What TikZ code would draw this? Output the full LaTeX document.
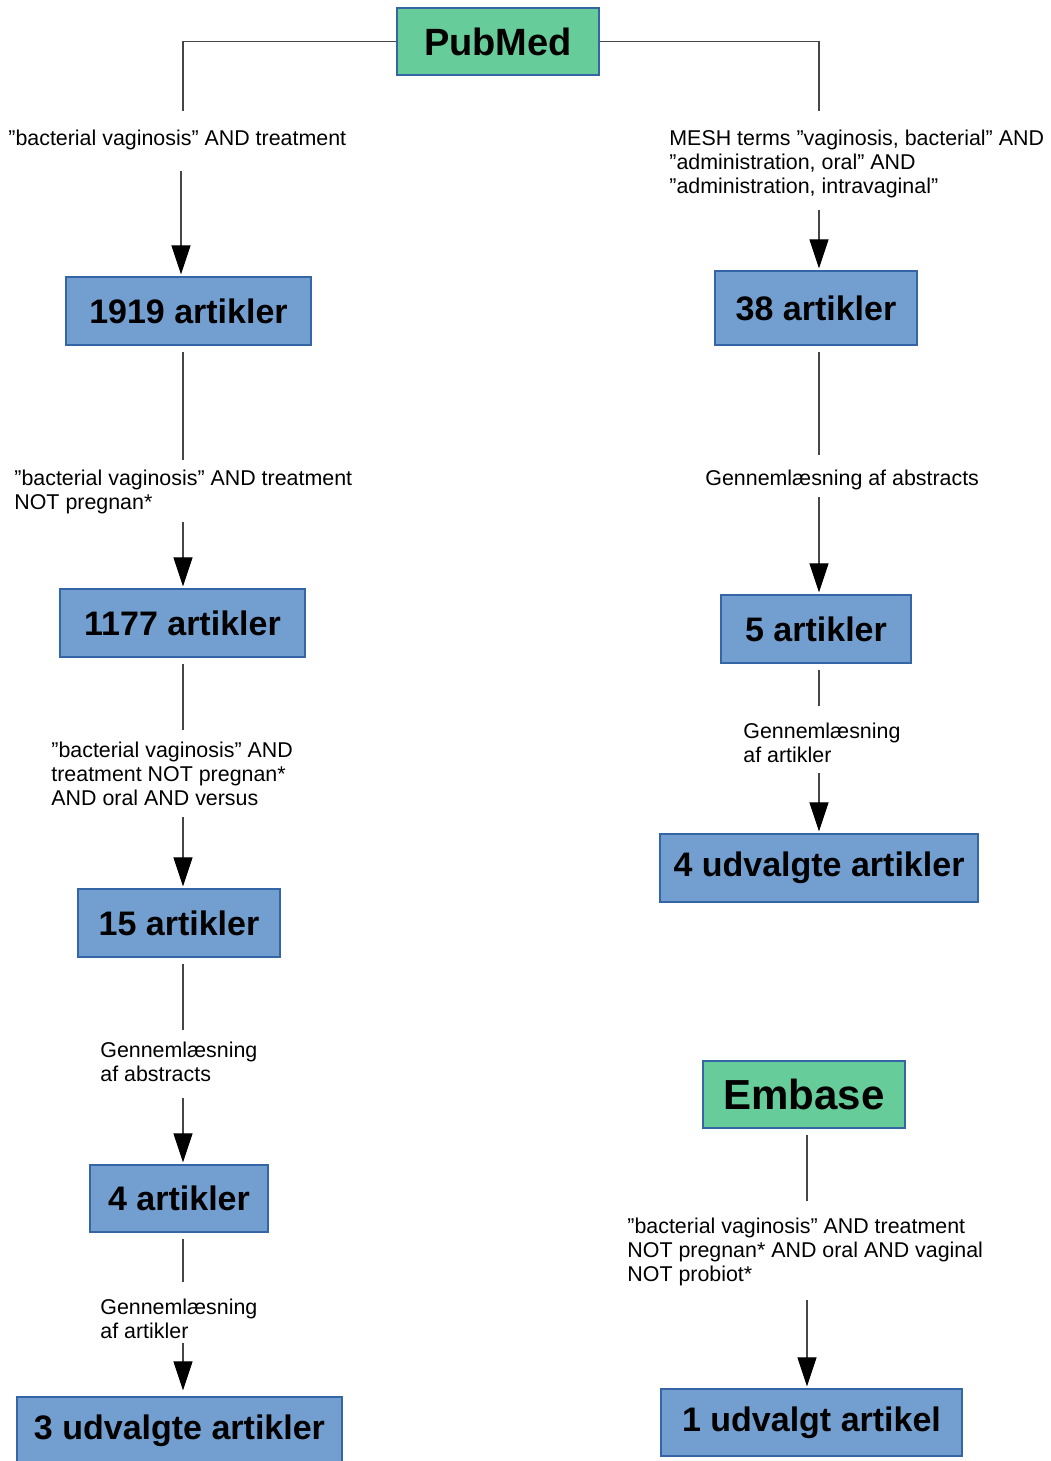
\documentclass[tikz,border=0pt]{standalone}
\usepackage{fontspec}
\setmainfont{Liberation Sans}
\usetikzlibrary{arrows.meta}
\definecolor{boxblue}{RGB}{114,159,207}
\definecolor{boxgreen}{RGB}{102,204,153}
\definecolor{boxedge}{RGB}{52,101,164}
\definecolor{linegray}{RGB}{70,70,70}
\tikzset{
  basebox/.style={draw=boxedge, line width=0.6pt, inner sep=0pt, font=\bfseries\fontsize{17}{20}\selectfont},
  bluebox/.style={basebox, fill=boxblue},
  greenbox/.style={basebox, fill=boxgreen},
  lbl/.style={anchor=north west, inner sep=0pt, align=left, font=\fontsize{10.7}{12}\selectfont},
  conn/.style={draw=linegray, line width=0.55pt},
  arrowconn/.style={conn, -{Triangle[length=14.5pt,width=9.5pt,color=black]}, shorten >=1pt},
}
\begin{document}
\begin{tikzpicture}[x=0.5pt,y=-0.5pt]
\useasboundingbox (0,0) rectangle (1050,1461);
% boxes
\node[greenbox, minimum width=101pt, minimum height=33.5pt, font=\bfseries\fontsize{19}{22}\selectfont] (pub) at (498,41.5) {PubMed};
\node[bluebox, minimum width=122.5pt, minimum height=34pt] (n1919) at (188.5,311) {1919 artikler};
\node[bluebox, minimum width=122.5pt, minimum height=34pt] (n1177) at (182.5,623) {1177 artikler};
\node[bluebox, minimum width=101pt, minimum height=34pt] (n15) at (179,923) {15 artikler};
\node[bluebox, minimum width=89pt, minimum height=33.5pt] (n4) at (179,1198.5) {4 artikler};
\node[bluebox, minimum width=162.5pt, minimum height=34pt] (n3) at (179.5,1431) {3 udvalgte artikler};
\node[bluebox, minimum width=101pt, minimum height=37pt] (n38) at (816,308) {38 artikler};
\node[bluebox, minimum width=95pt, minimum height=34pt] (n5) at (816,629) {5 artikler};
\node[bluebox, minimum width=159pt, minimum height=34pt] (n4u) at (819,868) {4 udvalgte artikler};
\node[greenbox, minimum width=101pt, minimum height=33.5pt, font=\bfseries\fontsize{21}{24}\selectfont] (emb) at (804,1094.5) {Embase};
\node[bluebox, minimum width=150.5pt, minimum height=33.5pt] (n1u) at (811.5,1422.5) {1 udvalgt artikel};
% labels
\node[lbl] (l1) at (8,130) {”bacterial vaginosis” AND treatment};
\node[lbl] (l2) at (669,130) {MESH terms ”vaginosis, bacterial” AND\\ ”administration, oral” AND\\ ”administration, intravaginal”};
\node[lbl] (l3) at (14,470) {”bacterial vaginosis” AND treatment\\ NOT pregnan*};
\node[lbl] (l4) at (51,742) {”bacterial vaginosis” AND\\ treatment NOT pregnan*\\ AND oral AND versus};
\node[lbl] (l5) at (100,1042) {Gennemlæsning\\ af abstracts};
\node[lbl] (l6) at (100,1299) {Gennemlæsning\\ af artikler};
\node[lbl] (l7) at (705,470) {Gennemlæsning af abstracts};
\node[lbl] (l8) at (743,723) {Gennemlæsning\\ af artikler};
\node[lbl] (l9) at (627,1218) {”bacterial vaginosis” AND treatment\\ NOT pregnan* AND oral AND vaginal\\ NOT probiot*};
% free ends
\coordinate (c1) at (183,111);  \coordinate (a1) at (181,171);
\coordinate (c2) at (183,460);  \coordinate (a2) at (183,522);
\coordinate (c3) at (183,730);  \coordinate (a3) at (183,817);
\coordinate (c4) at (183,1030); \coordinate (a4) at (183,1098);
\coordinate (c5) at (183,1282); \coordinate (a5) at (183,1343);
\coordinate (c6) at (819,111);  \coordinate (a6) at (819,210);
\coordinate (c7) at (819,455);  \coordinate (a7) at (819,497);
\coordinate (c8) at (819,706);  \coordinate (a8) at (819,773);
\coordinate (c9) at (807,1201); \coordinate (a9) at (807,1300);
% left column
\draw[conn] (pub.west) -| (c1);
\draw[arrowconn] (a1) -- (a1 |- n1919.north);
\draw[conn, shorten <=3pt] (c2 |- n1919.south) -- (c2);
\draw[arrowconn] (a2) -- (a2 |- n1177.north);
\draw[conn, shorten <=3pt] (c3 |- n1177.south) -- (c3);
\draw[arrowconn] (a3) -- (a3 |- n15.north);
\draw[conn, shorten <=3pt] (c4 |- n15.south) -- (c4);
\draw[arrowconn] (a4) -- (a4 |- n4.north);
\draw[conn, shorten <=3pt] (c5 |- n4.south) -- (c5);
\draw[arrowconn, shorten >=3pt] (a5) -- (a5 |- n3.north);
% right column
\draw[conn] (pub.east) -| (c6);
\draw[arrowconn] (a6) -- (a6 |- n38.north);
\draw[conn, shorten <=3pt] (c7 |- n38.south) -- (c7);
\draw[arrowconn] (a7) -- (a7 |- n5.north);
\draw[conn, shorten <=3pt] (c8 |- n5.south) -- (c8);
\draw[arrowconn] (a8) -- (a8 |- n4u.north);
\draw[conn, shorten <=3pt] (c9 |- emb.south) -- (c9);
\draw[arrowconn] (a9) -- (a9 |- n1u.north);
\end{tikzpicture}
\end{document}
